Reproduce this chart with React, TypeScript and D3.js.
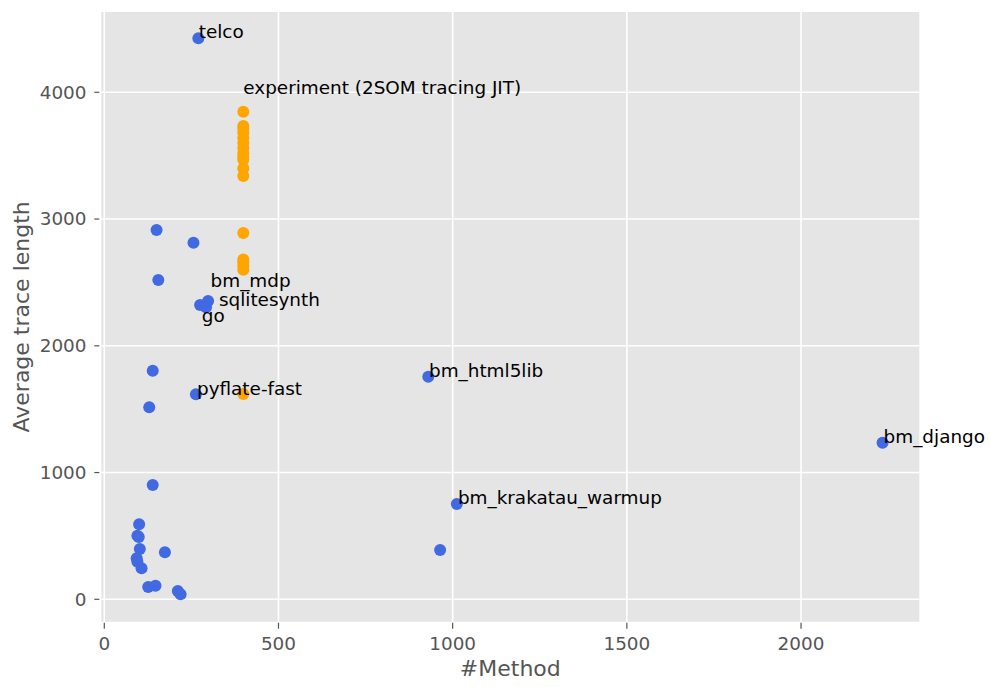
import React from 'react';
import * as d3 from 'd3';

// benchmark programs (blue)
const benchMethods = [270, 150, 256, 155, 275, 298, 292, 139, 129, 263, 930, 1012, 964, 2234,
  139, 100, 95, 99, 102, 93, 95, 107, 174, 126, 147, 211, 219];
const benchLengths = [4426, 2913, 2813, 2519, 2321, 2353, 2305, 1804, 1515, 1617, 1756, 752, 389, 1236,
  902, 592, 502, 492, 397, 323, 297, 245, 371, 97, 107, 65, 39];

// experiment runs (orange)
const expMethods = [399, 399, 399, 399, 399, 399, 399, 399, 399, 399, 399, 399, 399, 399, 399, 399, 399, 399];
const expLengths = [3847, 3735, 3715, 3680, 3640, 3600, 3560, 3520, 3490, 3470, 3400, 3340,
  2890, 2680, 2660, 2630, 2600, 1620];

// annotation texts and where they sit (data units)
const labelTexts = ['telco', 'experiment (2SOM tracing JIT)', 'bm_mdp', 'sqlitesynth', 'go',
  'pyflate-fast', 'bm_html5lib', 'bm_krakatau_warmup', 'bm_django'];
const labelX = [271, 399, 305, 329, 280, 266, 932, 1015, 2237];
const labelY = [4426, 3987, 2466, 2314, 2190, 1612, 1756, 752, 1236];

const xTicks = [0, 500, 1000, 1500, 2000];
const yTicks = [0, 1000, 2000, 3000, 4000];

const W = 990;
const H = 687;
const plot = { left: 101.3, right: 919.3, top: 12, bottom: 621.7 };
const FONT = '"DejaVu Sans", sans-serif';

export default function App() {
  const x = d3.scaleLinear().domain([-8.6, 2339.5]).range([plot.left, plot.right]);
  const y = d3.scaleLinear().domain([-176.7, 4633.5]).range([plot.bottom, plot.top]);

  return (
    <svg width={W} height={H} style={{ position: 'absolute', left: 0, top: 0, background: '#fff' }}
      fontFamily={FONT}>
      <rect x={plot.left} y={plot.top} width={plot.right - plot.left} height={plot.bottom - plot.top}
        fill="#E5E5E5" />
      {/* grid */}
      {xTicks.map(t => (
        <line key={'gx' + t} x1={x(t)} x2={x(t)} y1={plot.top} y2={plot.bottom} stroke="#fff" strokeWidth={1.6} />
      ))}
      {yTicks.map(t => (
        <line key={'gy' + t} y1={y(t)} y2={y(t)} x1={plot.left} x2={plot.right} stroke="#fff" strokeWidth={1.6} />
      ))}
      {/* ticks */}
      {xTicks.map(t => (
        <g key={'tx' + t}>
          <line x1={x(t)} x2={x(t)} y1={plot.bottom + 1} y2={plot.bottom + 7} stroke="#555" strokeWidth={1.2} />
          <text x={x(t)} y={649.5} textAnchor="middle" fontSize={18.4} fill="#555">{t}</text>
        </g>
      ))}
      {yTicks.map(t => (
        <g key={'ty' + t}>
          <line x1={plot.left - 7} x2={plot.left - 2} y1={y(t)} y2={y(t)} stroke="#555" strokeWidth={1.2} />
          <text x={86.5} y={y(t)} dy="0.35em" textAnchor="end" fontSize={18.4} fill="#555">{t}</text>
        </g>
      ))}
      {/* axis labels */}
      <text x={(plot.left + plot.right) / 2} y={676} textAnchor="middle" fontSize={22} fill="#555">#Method</text>
      <text transform={`translate(28.5,${(plot.top + plot.bottom) / 2}) rotate(-90)`} textAnchor="middle"
        fontSize={22} fill="#555">Average trace length</text>
      {/* points */}
      {benchMethods.map((m, i) => (
        <circle key={'b' + i} cx={x(m)} cy={y(benchLengths[i])} r={6} fill="royalblue" />
      ))}
      {expMethods.map((m, i) => (
        <circle key={'o' + i} cx={x(m)} cy={y(expLengths[i])} r={6} fill="orange" />
      ))}
      {/* annotations */}
      {labelTexts.map((s, i) => (
        <text key={'l' + i} x={x(labelX[i])} y={y(labelY[i])} fontSize={18.4} fill="#000">{s}</text>
      ))}
    </svg>
  );
}
